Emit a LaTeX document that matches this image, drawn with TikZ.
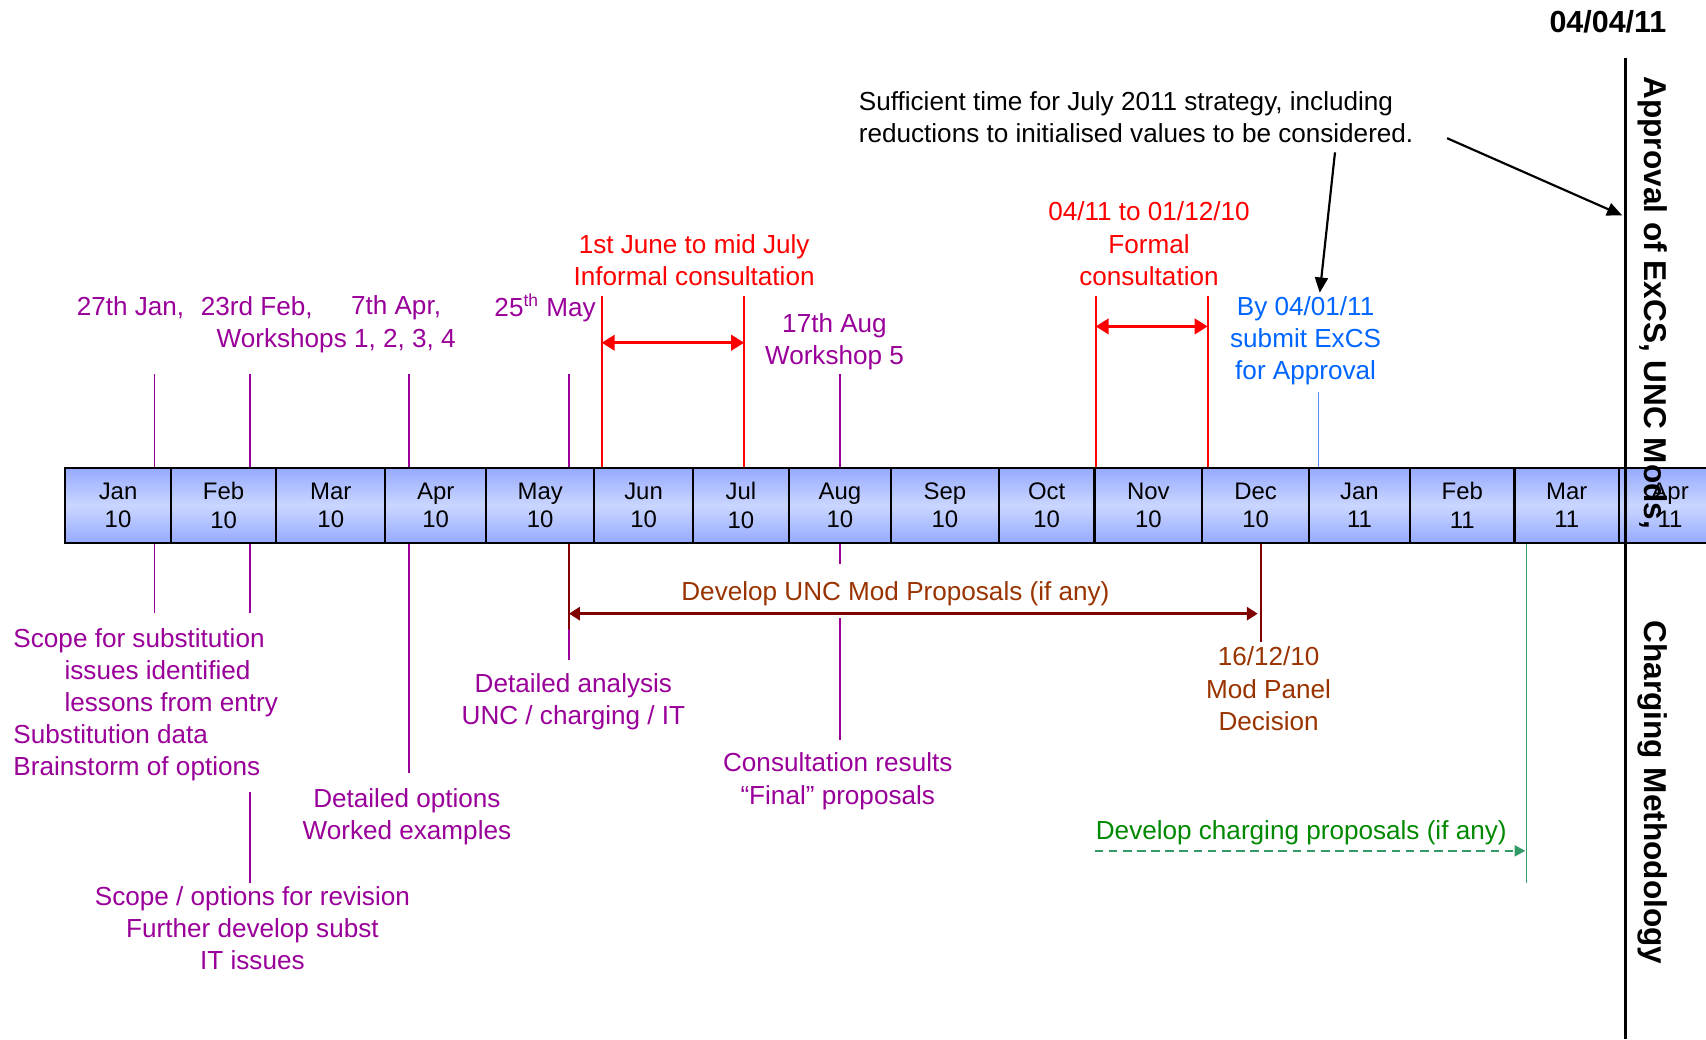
\documentclass[tikz,border=0pt]{standalone}
\usepackage{fontspec}
\setmainfont{Liberation Sans}
\usepackage{xcolor}
\usetikzlibrary{arrows.meta,positioning}

\definecolor{tlpurple}{RGB}{153,0,153}
\definecolor{tlred}{RGB}{255,0,0}
\definecolor{tlblue}{RGB}{0,102,255}
\definecolor{tlblueline}{RGB}{90,140,255}
\definecolor{tlmaroon}{RGB}{128,0,0}
\definecolor{tlbrown}{RGB}{153,51,0}
\definecolor{tlgreen}{RGB}{0,136,0}
\definecolor{tlsea}{RGB}{51,153,102}
\definecolor{barblue}{RGB}{150,170,255}
\definecolor{barlight}{RGB}{202,214,255}

\begin{document}
\begin{tikzpicture}[
  x=0.5pt, y=-0.5pt,
  cell/.style={draw, line width=1pt, top color=barblue, bottom color=barblue,
               middle color=barlight, minimum height=34.5pt, inner sep=0pt,
               align=center, font=\fontsize{11}{13}\selectfont},
  lbl/.style={align=center, inner sep=0pt, yshift=-1pt,
              font=\fontsize{12}{14.75}\selectfont},
  vlbl/.style={rotate=-90, anchor=west, inner sep=0pt,
               font=\bfseries\fontsize{14.5}{17}\selectfont},
  ptick/.style={draw=tlpurple, line width=0.8pt},
  rtick/.style={draw=tlred, line width=1pt},
  rarr/.style={{Triangle[length=6pt,width=7pt]}-{Triangle[length=6pt,width=7pt]},
               draw=tlred, line width=1.5pt},
  marr/.style={{Triangle[length=5pt,width=6pt]}-{Triangle[length=5pt,width=6pt]},
               draw=tlmaroon, line width=1.5pt},
  barr/.style={-{Triangle[length=7pt,width=6pt]}, line width=1pt},
  garr/.style={-{Triangle[length=5pt,width=5pt]}, draw=tlsea, line width=1.1pt,
               dash pattern=on 4pt off 2.5pt}
]
\useasboundingbox (0,0) rectangle (1568,955);
\clip (0,0) rectangle (1568,955);

% month bar
\foreach \a/\b/\mon/\yr [count=\i] in {60/157/Jan/10, 157/254/Feb/10,
    254/354/Mar/10, 354/447/Apr/10, 447/546/May/10, 546/637/Jun/10,
    637/725/Jul/10, 725/819/Aug/10, 819/918/Sep/10, 918/1006/Oct/10,
    1006/1105/Nov/10, 1105/1203/Dec/10, 1203/1296/Jan/11, 1296/1392/Feb/11,
    1392/1488/Mar/11, 1488/1582/Apr/11}{
  \pgfmathsetmacro\w{(\b-\a)*0.5}
  \node[cell, minimum width=\w pt] (m\i) at ({(\a+\b)/2},464.5) {\mon\\\yr};
}

% workshops
\node[lbl, tlpurple] (jan27l) at (120,281) {27th Jan,};
\node[lbl, tlpurple] (feb23l) at (236,281) {23rd Feb,};
\node[lbl, tlpurple] (apr7l) at (364,281) {7th Apr,};
\node[lbl, tlpurple] (may25l) at (501,281) {25\textsuperscript{th} May};
\node[lbl, tlpurple] (wsl) at (309,311) {Workshops 1, 2, 3, 4};
\node[lbl, tlpurple] (aug17l) at (767,312) {17th Aug\\Workshop 5};

\coordinate (jan27) at (142,344);
\coordinate (feb23) at (230,344);
\coordinate (apr7) at (376,344);
\coordinate (may25) at (523,344);
\coordinate (aug17) at (772,344);
\foreach \t in {jan27,feb23,apr7,may25,aug17}
  \draw[ptick] (\t) -- (\t |- m1.north);

% consultations
\node[lbl, tlred] (informal) at (638,237) {1st June to mid July\\Informal consultation};
\node[lbl, tlred] (formal) at (1056,222) {04/11 to 01/12/10\\Formal\\consultation};
\coordinate (jun1) at (553,272);
\coordinate (jul15) at (684,272);
\coordinate (nov4) at (1007,272);
\coordinate (dec1) at (1110,272);
\foreach \t in {jun1,jul15,nov4,dec1}
  \draw[rtick] (\t) -- (\t |- m1.north);
\coordinate (infl) at (553,315);
\coordinate (infr) at (684,315);
\coordinate (forl) at (1007,300);
\coordinate (forr) at (1110,300);
\draw[rarr] (infl) -- (infr);
\draw[rarr] (forl) -- (forr);

% submission
\node[lbl, tlblue] (submit) at (1200,311) {By 04/01/11\\submit ExCS\\for Approval};
\coordinate (jan4) at (1212,360);
\draw[draw=tlblueline, line width=0.6pt] (jan4) -- (jan4 |- m1.north);

% approval
\node[lbl, align=left, anchor=west] (suff) at (789,105.5)
  {Sufficient time for July 2011 strategy, including\\reductions to initialised values to be considered.};
\node[anchor=east, inner sep=0pt, font=\bfseries\fontsize{14}{17}\selectfont] (date) at (1532,20) {04/04/11};
\coordinate (vtop) at (1494,53);
\coordinate (vbot) at (1494,955);
\draw[line width=1.2pt] (vtop) -- (vbot);
\node[vlbl] (approval) at (1519,70) {Approval of ExCS, UNC Mods,};
\node[vlbl] (charging) at (1519,570) {Charging Methodology};
\coordinate (suffa) at (1227,140);
\coordinate (subtip) at (1213,269);
\coordinate (suffb) at (1330,127);
\coordinate (apptip) at (1491,198);
\draw[barr] (suffa) -- (subtip);
\draw[barr] (suffb) -- (apptip);

% below the bar
\coordinate (jan27b) at (142,563);
\coordinate (feb23b) at (230,563);
\coordinate (apr7b) at (376,710);
\coordinate (may25b) at (523,607);
\coordinate (may25m) at (523,578);
\coordinate (aug17b) at (772,518);
\coordinate (aug17c) at (772,568);
\coordinate (aug17d) at (772,680);
\coordinate (feb23c) at (230,728);
\coordinate (feb23d) at (230,812);
\foreach \t in {jan27b,feb23b,apr7b,may25b,aug17b}
  \draw[ptick] (\t |- m1.south) -- (\t);
\draw[ptick] (aug17c) -- (aug17d);
\draw[ptick] (feb23c) -- (feb23d);
\draw[draw=tlmaroon, line width=1pt] (may25m |- m1.south) -- (may25m);

\node[lbl, tlpurple, align=left, anchor=west] (scope) at (12,646)
  {Scope for substitution\\\hspace*{23.5pt}issues identified\\\hspace*{23.5pt}lessons from entry\\Substitution data\\Brainstorm of options};
\node[lbl, tlpurple] (revision) at (232,851) {Scope / options for revision\\Further develop subst\\IT issues};
\node[lbl, tlpurple] (options) at (374,749) {Detailed options\\Worked examples};
\node[lbl, tlpurple] (analysis) at (527,643) {Detailed analysis\\UNC / charging / IT};
\node[lbl, tlpurple] (results) at (770,716) {Consultation results\\“Final” proposals};

% UNC mods
\node[lbl, tlbrown] (unc) at (823,544) {Develop UNC Mod Proposals (if any)};
\node[lbl, tlbrown] (panel) at (1166,631) {16/12/10\\Mod Panel\\Decision};
\coordinate (dec16) at (1159,590);
\draw[draw=tlmaroon, line width=0.8pt] (dec16 |- m1.south) -- (dec16);
\coordinate (uncl) at (523,564);
\coordinate (uncr) at (1156,564);
\draw[marr] (uncl) -- (uncr);

% charging
\node[lbl, tlgreen] (chg) at (1196,763) {Develop charging proposals (if any)};
\coordinate (chgl) at (1006,782);
\coordinate (chgr) at (1402,782);
\draw[garr] (chgl) -- (chgr);
\coordinate (mar1) at (1403,812);
\draw[draw=tlsea, line width=0.6pt] (mar1 |- m1.south) -- (mar1);
\end{tikzpicture}
\end{document}
